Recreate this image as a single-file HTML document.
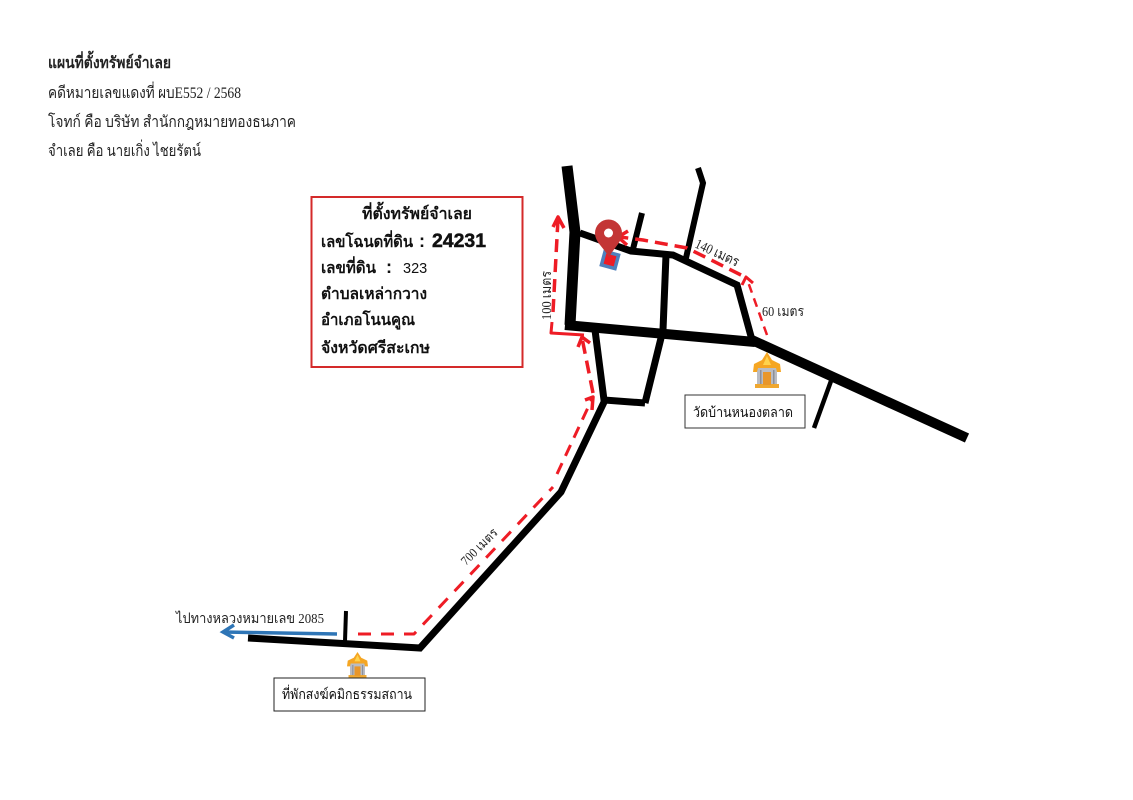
<!DOCTYPE html>
<html lang="th">
<head>
<meta charset="utf-8">
<style>
html,body{margin:0;padding:0;background:#fff;}
svg{display:block;filter:blur(0.35px);}
.s{font-family:"Liberation Serif","Noto Serif CJK SC",serif;fill:#222;}
.a{font-family:"Liberation Sans","Noto Sans CJK SC",sans-serif;fill:#111;}
</style>
</head>
<body>
<svg width="1133" height="800" viewBox="0 0 1133 800" xmlns="http://www.w3.org/2000/svg">
<defs>
<g id="temple">
  <rect x="4" y="16" width="20" height="17" fill="#b9bcc4"/>
  <rect x="7" y="18" width="1.500" height="15" fill="#8d9099"/>
  <rect x="20" y="18" width="1.500" height="15" fill="#8d9099"/>
  <rect x="2" y="32" width="24" height="4" fill="#f0a830"/>
  <polygon points="14,0 19,8 27,12 28,20 24,20 23,16 5,16 4,20 0,20 1,12 9,8" fill="#f5a623"/>
  <polygon points="14,4 18,13 10,13" fill="#ffd34d"/>
  <rect x="10" y="20" width="8" height="13" fill="#e8962a"/>
</g>
</defs>

<g font-size="16">
<text class="s" x="48" y="68" font-weight="bold" fill="#111" textLength="123" lengthAdjust="spacingAndGlyphs">แผนที่ตั้งทรัพย์จำเลย</text>
<text class="s" x="48" y="98" textLength="193" lengthAdjust="spacingAndGlyphs">คดีหมายเลขแดงที่ ผบE552 / 2568</text>
<text class="s" x="48" y="127" textLength="248" lengthAdjust="spacingAndGlyphs">โจทก์ คือ บริษัท สำนักกฎหมายทองธนภาค</text>
<text class="s" x="48" y="156" textLength="153" lengthAdjust="spacingAndGlyphs">จำเลย คือ นายเกิ่ง ไชยรัตน์</text>
</g>

<rect x="311.500" y="197" width="211" height="170" fill="#fff" stroke="#d42a2a" stroke-width="2"/>
<g font-size="16" font-weight="bold">
<text class="a" x="362" y="219" textLength="110" lengthAdjust="spacingAndGlyphs">ที่ตั้งทรัพย์จำเลย</text>
<text class="a" x="321" y="247" textLength="92" lengthAdjust="spacingAndGlyphs">เลขโฉนดที่ดิน</text>
<text class="a" x="419" y="247" font-size="18">:</text>
<text class="a" x="432" y="247" font-size="19.500" stroke="#111" stroke-width="0.500" textLength="54" lengthAdjust="spacingAndGlyphs">24231</text>
<text class="a" x="321" y="273" textLength="55" lengthAdjust="spacingAndGlyphs">เลขที่ดิน</text>
<text class="a" x="386" y="273" font-size="18">:</text>
<text class="a" x="403" y="273" font-size="14.500" font-weight="normal">323</text>
<text class="a" x="321" y="299" textLength="106" lengthAdjust="spacingAndGlyphs">ตำบลเหล่ากวาง</text>
<text class="a" x="321" y="325" textLength="94" lengthAdjust="spacingAndGlyphs">อำเภอโนนคูณ</text>
<text class="a" x="321" y="353" textLength="109" lengthAdjust="spacingAndGlyphs">จังหวัดศรีสะเกษ</text>
</g>

<g fill="none" stroke="#000" stroke-linejoin="miter">
  <polyline points="567,166 575,232 570,325" stroke-width="11"/>
  <polyline points="565,325 755,342" stroke-width="10"/>
  <polyline points="752,340 967,438" stroke-width="10"/>
  <polyline points="580,233 631,251 673,255 737,285 752,340" stroke-width="7"/>
  <polyline points="666,255 663,330 645,403" stroke-width="7"/>
  <polyline points="595,330 604,400 645,403" stroke-width="7"/>
  <line x1="642" y1="213" x2="633" y2="249" stroke-width="6"/>
  <polyline points="698,168 703,183 686,258" stroke-width="6"/>
  <polyline points="606,398 561,492 420,648 248,638" stroke-width="7"/>
  <line x1="346" y1="611" x2="345" y2="641" stroke-width="4"/>
  <line x1="831" y1="381" x2="814" y2="428" stroke-width="4.500"/>
</g>

<g fill="none" stroke="#ee1c25" stroke-linejoin="round">
  <polyline points="767,335 747,279" stroke-width="2.500" stroke-dasharray="9 6"/>
  <polyline points="742,285 746,277 753,283" stroke-width="3"/>
  <polyline points="741,275 687,248 643,240 620,237" stroke-width="3.500" stroke-dasharray="13 7"/>
  <polyline points="628,231 618,237 627,245" stroke-width="3.500"/>
  <polyline points="593,393 582,338" stroke-width="3.500" stroke-dasharray="13 7"/>
  <polyline points="578,347 582,337 590,343" stroke-width="3.500"/>
  <polyline points="584,335 551,333 552,322" stroke-width="3"/>
  <polyline points="553,312 558,219" stroke-width="3.500" stroke-dasharray="13 7"/>
  <polyline points="553,227 558,217 564,228" stroke-width="3.500"/>
  <polyline points="358,634 414,634 553,487" stroke-width="3" stroke-dasharray="13 10"/>
  <polyline points="557,474 592,399" stroke-width="3" stroke-dasharray="12 8"/>
  <polyline points="585,400 593,397 592,410" stroke-width="3.500"/>
</g>

<line x1="337" y1="634" x2="224" y2="632" stroke="#2e75b6" stroke-width="3.500"/>
<polyline points="234,625 223,632 234,638" fill="none" stroke="#2e75b6" stroke-width="3.500"/>

<rect x="-7" y="-7" width="14" height="14" transform="translate(610,260) rotate(15)" fill="#ee1c25" stroke="#4f81bd" stroke-width="3.500"/>
<path d="M609,258 C605,248 595,243 595,233 A13.500,13.500 0 0 1 622,233 C622,243 613,248 609,258 Z" fill="#c33535"/>
<circle cx="608.500" cy="233" r="4.500" fill="#fff"/>

<use href="#temple" transform="translate(753,352)"/>
<use href="#temple" transform="translate(347,652) scale(0.75,0.72)"/>

<rect x="685" y="395" width="120" height="33" fill="#fff" stroke="#333" stroke-width="1"/>
<text class="a" x="693" y="417" font-size="14" fill="#333" textLength="100" lengthAdjust="spacingAndGlyphs">วัดบ้านหนองตลาด</text>
<rect x="274" y="678" width="151" height="33" fill="#fff" stroke="#222" stroke-width="1"/>
<text class="a" x="282" y="699" font-size="14" fill="#333" textLength="130" lengthAdjust="spacingAndGlyphs">ที่พักสงฆ์คมิกธรรมสถาน</text>

<text class="s" x="176" y="623" font-size="14" textLength="148" lengthAdjust="spacingAndGlyphs">ไปทางหลวงหมายเลข  2085</text>
<text class="s" x="762" y="316" font-size="14" textLength="42" lengthAdjust="spacingAndGlyphs">60 เมตร</text>
<text class="s" font-size="14" transform="translate(694,247) rotate(25)" textLength="47" lengthAdjust="spacingAndGlyphs">140 เมตร</text>
<text class="s" font-size="14" transform="translate(551,320) rotate(-90)" textLength="49" lengthAdjust="spacingAndGlyphs">100 เมตร</text>
<text class="s" font-size="13" transform="translate(466,566) rotate(-45)" textLength="46" lengthAdjust="spacingAndGlyphs">700 เมตร</text>
</svg>
</body>
</html>
